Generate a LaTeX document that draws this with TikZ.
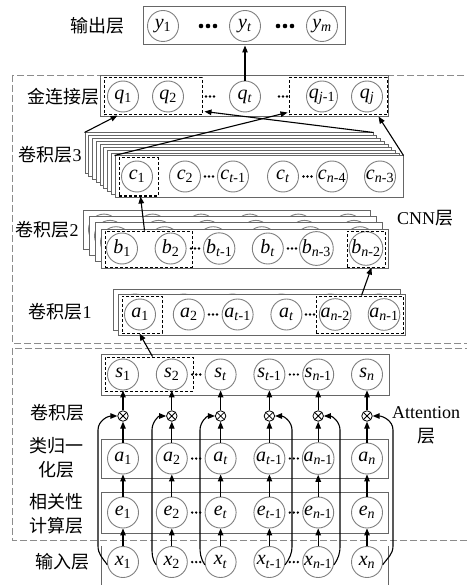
\documentclass[tikz,border=0pt]{standalone}
\usepackage{fontspec}
\setmainfont{Liberation Serif}
\newfontfamily\cjk{Noto Sans CJK SC}
\usetikzlibrary{arrows.meta,calc,fit}
\newcommand\vv[2]{\textit{#1}\textsubscript{#2}}
\newcommand\tdots[2]{\foreach \d in {-4,0,4}{\fill ({#1+\d},{#2}) circle (1.3pt);}}
\newcommand\bigdots[2]{\foreach \d in {-7,0,7}{\fill ({#1+\d},{#2}) circle (2.3pt);}}
\tikzset{
 neuron/.style={circle, draw=black!50, line width=0.9pt, fill=white, minimum size=31pt, inner sep=0pt, font=\fontsize{20}{20}\selectfont},
 lbox/.style={draw=black!60, line width=1pt, fill=white, inner sep=0pt},
 sel/.style={draw=black, line width=1pt, dash pattern=on 3pt off 2pt, inner sep=0pt},
 arr/.style={-{Triangle[length=7pt,width=5.5pt]}, line width=1.1pt},
 zone/.style={draw=black!45, line width=0.8pt, dash pattern=on 7pt off 3pt},
 lab/.style={font=\fontsize{18}{24}\selectfont\cjk, align=center, inner sep=0pt},
 ot/.style={circle, draw=black, line width=0.8pt, fill=white, minimum size=10.5pt, inner sep=0pt,
   path picture={\draw[line width=0.8pt] (path picture bounding box.north west) -- (path picture bounding box.south east)
     (path picture bounding box.north east) -- (path picture bounding box.south west);}},
}
\begin{document}
\begin{tikzpicture}[x=1pt,y=1pt]
\useasboundingbox (0,0) rectangle (466,-585);

% zones
\draw[zone] (12,-75) rectangle (490,-343);
\draw[zone] (12,-348) rectangle (490,-540);

% ---------- output layer
\node[lbox, minimum width=202pt, minimum height=38pt] (outbox) at (244,-26) {};
\node[neuron] (y1) at (163,-26) {\vv{y}{1}};
\node[neuron] (yt) at (245,-26) {\vv{y}{\textit{t}}};
\node[neuron] (ym) at (322,-26) {\vv{y}{\textit{m}}};
\bigdots{208}{-26}
\bigdots{285}{-26}
\node[lab] (lout) at (97,-26) {输出层};

% ---------- concatenation layer
\node[lbox, minimum width=288pt, minimum height=41pt] (qbox) at (244,-96.5) {};
\foreach \i/\x/\l in {1/123/{1}, 2/168/{2}, 3/245/{\textit{t}}, 4/322/{\textit{j}-1}, 5/367/{\textit{j}}}
  \node[neuron] (q\i) at (\x,-96.5) {\vv{q}{\l}};
\tdots{210}{-96.5}
\tdots{283}{-96.5}
\node[sel, fit={(104,-78) (202,-115)}] (qL) {};
\node[sel, fit={(289,-78) (387,-115)}] (qR) {};
\node[lab] (lq) at (63,-97) {金连接层};
\draw[arr] (q3) -- (q3 |- outbox.south);

% ---------- conv layer 3 (stack)
\foreach \k in {8,7,...,1}
  \node[lbox, minimum width=288pt, minimum height=41pt] (c3b\k) at ({259-3.75*\k},{-176.5+2.875*\k}) {};
\node[lbox, minimum width=288pt, minimum height=41pt] (c3box) at (259,-176.5) {};
\foreach \i/\x/\l in {1/137/{1}, 2/185/{2}, 3/233/{\textit{t}-1}, 4/283/{\textit{t}}, 5/332/{\textit{n}-4}, 6/380/{\textit{n}-3}}
  \node[neuron] (c\i) at (\x,-176.5) {\vv{c}{\l}};
\tdots{209}{-176.5}
\tdots{307.5}{-176.5}
\node[sel, fit={(119,-158) (158,-196)}] (c1sel) {};
\node[lab] (lc3) at (50,-155) {卷积层\rmfamily 3};

\draw[arr] (c3b8.north west) -- ($(qL.south west)+(14,0)$);
\draw[arr] (c3b8.north east) -- ($(qL.south east)+(2,4)$);
\draw[arr] (c3box.north west) -- ($(qR.south west)+(-1,3)$);
\draw[arr] (c3box.north east) -- ($(qR.south east)+(-9,-1)$);

% ---------- conv layer 2 (stack)
\foreach \k in {3,2,1}{
  \begin{scope}[shift={({-6*\k},{6.3*\k})}]
    \node[lbox, minimum width=287pt, minimum height=39pt] (b2b\k) at (244.5,-248.5) {};
    \foreach \x in {122,170.6,219.2,267.8,316.4,366}
      \node[neuron] (bb\k\x) at (\x,-248.5) {};
  \end{scope}
}
\node[lbox, minimum width=287pt, minimum height=39pt] (b2box) at (244.5,-248.5) {};
\foreach \i/\x/\l in {1/122/{1}, 2/170.6/{2}, 3/219.2/{\textit{t}-1}, 4/267.8/{\textit{t}}, 5/316.4/{\textit{n}-3}, 6/366/{\textit{n}-2}}
  \node[neuron] (b\i) at (\x,-248.5) {\vv{b}{\l}};
\tdots{195}{-248.5}
\tdots{292}{-248.5}
\node[sel, fit={(105,-231) (192,-267)}] (bL) {};
\node[sel, fit={(347,-231) (385,-267)}] (bR) {};
\node[lab] (lc2) at (47,-230) {卷积层\rmfamily 2};
\draw[arr] ($(bL.north west)+(40,0)$) -- ($(c1sel.south)+(2,0)$);

% ---------- conv layer 1
\node[lbox, minimum width=287pt, minimum height=41pt] (a1back) at (256.5,-309.5) {};
\foreach \x in {140,188.8,237.6,286.4,335.2,384}
  \node[neuron] (ab\x) at ({\x-5},-309.5) {};
\node[lbox, minimum width=287pt, minimum height=41pt] (a1box) at (261.5,-314.5) {};
\foreach \i/\x/\l in {1/140/{1}, 2/188.8/{2}, 3/237.6/{\textit{t}-1}, 4/286.4/{\textit{t}}, 5/335.2/{\textit{n}-2}, 6/384/{\textit{n}-1}}
  \node[neuron] (cv\i) at (\x,-314.5) {\vv{a}{\l}};
\tdots{213}{-314.5}
\tdots{310}{-314.5}
\node[sel, fit={(122,-296) (162,-333)}] (aL) {};
\node[sel, fit={(316,-296) (403,-333)}] (aR) {};
\node[lab] (lc1) at (60,-312) {卷积层\rmfamily 1};
\draw[arr] ($(aR.north west)+(46,0)$) -- ($(bR.south west)+(25,0)$);

\node[lab] (lcnn) at (425,-218) {{\rmfamily CNN}层};

% ---------- bottom part
\node[lbox, minimum width=288pt, minimum height=41pt] (sbox) at (245,-374.5) {};
\node[lbox, minimum width=287pt, minimum height=39pt] (anbox) at (244.5,-458.5) {};
\node[lbox, minimum width=287pt, minimum height=41pt] (ebox) at (244.5,-512.5) {};
\draw[draw=black!60, line width=1pt] (101,-546) -- (101,-600) (388,-546) -- (388,-600);

\foreach \i/\x/\l in {1/123/{1}, 2/171.8/{2}, 3/220.6/{\textit{t}}, 4/269.4/{\textit{t}-1}, 5/318.2/{\textit{n}-1}, 6/367/{\textit{n}}}{
  \node[neuron] (s\i) at (\x,-374.5) {\vv{s}{\l}};
  \node[ot] (o\i) at (\x,-416) {};
  \node[neuron] (x\i) at (\x,-562) {\vv{x}{\l}};
}
\foreach \i/\x/\l in {1/123/{1}, 2/171.8/{2}, 3/220.6/{\textit{t}}, 4/269.4/{\textit{t}-1}, 5/318.2/{\textit{n}-1}, 6/367/{\textit{n}}}{
  \node[neuron] (an\i) at (\x,-458.5) {\vv{a}{\l}};
  \node[neuron] (e\i) at (\x,-512.5) {\vv{e}{\l}};
}
\foreach \y in {-374.5,-458.5,-512.5,-562}{
  \tdots{196.2}{\y}
  \tdots{293.8}{\y}
}
\node[sel, fit={(105,-357) (193,-391)}] (sL) {};
\draw[arr] ($(sL.north west)+(48,0)$) -- ($(aL.south west)+(18,0)$);

\foreach \i in {1,...,6}{
  \draw[arr] (x\i) -- (e\i);
  \draw[arr] (e\i) -- (an\i);
  \draw[arr] (an\i) -- (o\i);
  \draw[arr] (o\i) -- (s\i);
}
\foreach \i/\v in {1/98,2/152,3/200}
  \draw[arr] (x\i.190) to[out=125,in=-90] (\v,-546) -- (\v,-430) to[out=90,in=180] (o\i.west);
\foreach \i/\v in {4/292,5/340,6/393}
  \draw[arr] (x\i.-10) to[out=55,in=-90] (\v,-546) -- (\v,-430) to[out=90,in=0] (o\i.east);

\node[lab] (lconv) at (57,-413) {卷积层};
\node[lab] (lan) at (56,-457.5) {类归一\\化层};
\node[lab] (le) at (56,-513.5) {相关性\\计算层};
\node[lab] (lx) at (62,-562) {输入层};
\node[lab] (latt) at (426,-425) {{\rmfamily Attention}\\层};
\end{tikzpicture}
\end{document}
